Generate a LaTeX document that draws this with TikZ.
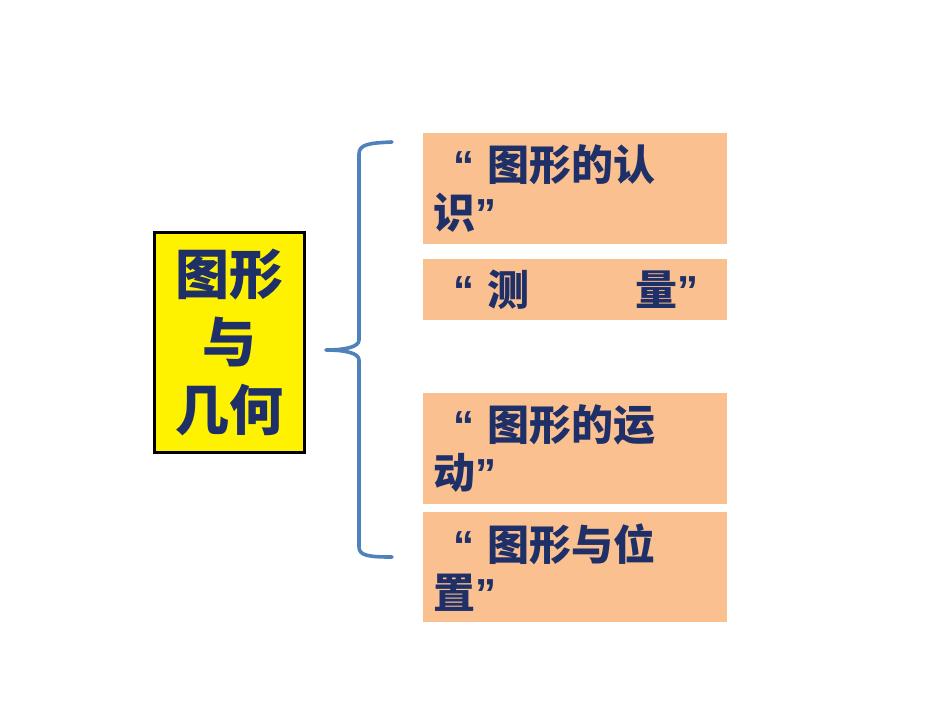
\documentclass[tikz,border=0pt]{standalone}
\usepackage{fontspec}
\newfontfamily\cjk{Noto Sans CJK SC}
\newfontfamily\quotefont{Liberation Sans}
\newcommand{\qmark}[1]{{\quotefont\bfseries #1}}
\definecolor{navytext}{RGB}{31,48,104}
\definecolor{peach}{RGB}{250,192,144}
\definecolor{bracecol}{RGB}{79,129,189}
\begin{document}
\begin{tikzpicture}[%
        x=0.5pt, y=-0.5pt,
        topic/.style={draw=black, line width=1.5pt, fill=yellow,
            minimum width=75pt, minimum height=110pt, inner sep=0pt,
            align=center, text=navytext,
            font=\cjk\bfseries\fontsize{27}{34}\selectfont},
        part/.style={anchor=north west, fill=peach, minimum width=152pt,
            inner xsep=5pt, inner ysep=0pt, text width=142pt, align=left,
            text=navytext, font=\cjk\bfseries\fontsize{21}{24}\selectfont},
        brace/.style={draw=bracecol, line width=1.8pt, line cap=round,
            line join=round}
    ]
        \useasboundingbox (0,0) rectangle (950,713);

        \node [topic] (geo) at (229.5,342) {图形\\与\\几何};

        \node [part, minimum height=55.5pt] (recog) at (423,133)
            {\hspace*{10pt}\qmark{“}\hspace{6.5pt}图形的认\\识\qmark{”}};
        \node [part, minimum height=30.5pt] (measure) at (423,259)
            {\hspace*{10pt}\qmark{“}\hspace{6.5pt}测\hspace*{53pt}量\qmark{”}};
        \node [part, minimum height=55.5pt] (motion) at (423,393)
            {\hspace*{10pt}\qmark{“}\hspace{6.5pt}图形的运\\动\qmark{”}};
        \node [part, minimum height=55pt] (place) at (423,512)
            {\hspace*{10pt}\qmark{“}\hspace{6.5pt}图形与位\\置\qmark{”}};

        \coordinate (btop) at (392,142);
        \coordinate (btip) at (326,350);
        \coordinate (bbot) at (392,557);

        \draw [brace] (btop) .. controls (370,143) and (359,144) .. (359,154)
            -- (359,340) .. controls (359,347) and (345,350) .. (btip)
            .. controls (345,350) and (359,353) .. (359,360)
            -- (359,547) .. controls (359,556) and (370,557) .. (bbot);
    \end{tikzpicture}
\end{document}
